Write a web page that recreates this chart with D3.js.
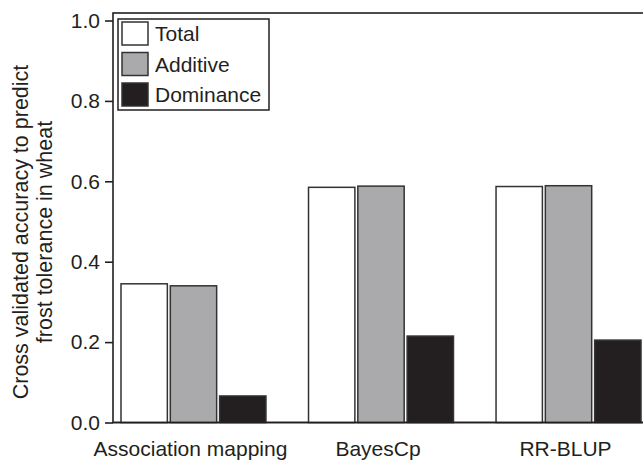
<!DOCTYPE html>
<html>
<head>
<meta charset="utf-8">
<script src="https://cdn.jsdelivr.net/npm/d3@7"></script>
<style>
  body { margin: 0; background: #fff; }
  text { font-family: "Liberation Sans", Arial, sans-serif; fill: #231f20; }
</style>
</head>
<body>
<div id="chart"></div>
<script>
// data
var methods = ["Association mapping", "BayesCp", "RR-BLUP"]
var seriesNames = ["Total", "Additive", "Dominance"]
var totalVals = [0.345, 0.585, 0.587]
var additiveVals = [0.340, 0.588, 0.589]
var dominanceVals = [0.066, 0.215, 0.205]
var yTicks = [0, 0.2, 0.4, 0.6, 0.8, 1.0]
var fills = ["#ffffff", "#aaaaad", "#231f20"]

var svgWdth = 643
var svgHt = 463

var svg = d3.select("#chart")
    .append("svg")
    .attr("width", svgWdth)
    .attr("height", svgHt)

var axisX = 113
var y = d3.scaleLinear().domain([0, 1]).range([422.5, 20.5])

var x0 = d3.scaleBand()
    .domain(methods)
    .range([121, 641])
    .paddingInner(0.227)
    .paddingOuter(0)

var x1 = d3.scaleBand()
    .domain(seriesNames)
    .range([0, x0.bandwidth()])
    .paddingInner(0.06)

var rows = methods.map(function(m, i) {
    return { method: m, vals: [totalVals[i], additiveVals[i], dominanceVals[i]] }
})

// frame (top + left, right side falls off the picture)
svg.append("rect")
    .attr("x", axisX)
    .attr("y", 13)
    .attr("width", 700)
    .attr("height", y(0) - 13)
    .attr("fill", "none")
    .attr("stroke", "#231f20")
    .attr("stroke-width", 1.6)

// bars
var groups = svg.selectAll(".grp")
    .data(rows)
    .enter().append("g")
    .attr("class", "grp")
    .attr("transform", function(d) { return "translate(" + x0(d.method) + ",0)" })

groups.selectAll("rect")
    .data(function(d) { return d.vals.map(function(v, j) { return { s: seriesNames[j], v: v, j: j } }) })
    .enter().append("rect")
    .attr("x", function(d) { return x1(d.s) })
    .attr("y", function(d) { return y(d.v) })
    .attr("width", x1.bandwidth())
    .attr("height", function(d) { return y(0) - y(d.v) })
    .attr("fill", function(d) { return fills[d.j] })
    .attr("stroke", "#333")
    .attr("stroke-width", 1.5)

// y axis
var yAxis = d3.axisLeft(y)
    .tickValues(yTicks)
    .tickFormat(d3.format(".1f"))
    .tickSize(8)
    .tickPadding(5)

var yg = svg.append("g")
    .attr("transform", "translate(" + axisX + ",0)")
    .call(yAxis)
yg.select(".domain").remove()
yg.selectAll("line").attr("stroke", "#231f20").attr("stroke-width", 1.6)
yg.selectAll("text")
    .style("font-size", "21px")
    .style("font-family", "Liberation Sans, Arial, sans-serif")
    .attr("fill", "#231f20")

// baseline
svg.append("line")
    .attr("x1", axisX).attr("x2", svgWdth)
    .attr("y1", y(0)).attr("y2", y(0))
    .attr("stroke", "#231f20")
    .attr("stroke-width", 1.6)

// category labels
svg.selectAll(".cat")
    .data(methods)
    .enter().append("text")
    .attr("class", "cat")
    .attr("x", function(d) { return x0(d) + x0.bandwidth() / 2 - 3 })
    .attr("y", 456)
    .attr("text-anchor", "middle")
    .style("font-size", "21px")
    .text(function(d) { return d })

// y label, two lines
var yLab = svg.append("text")
    .attr("transform", "translate(0,232) rotate(-90)")
    .attr("text-anchor", "middle")
    .style("font-size", "21.5px")
yLab.append("tspan").attr("x", 0).attr("y", 28).text("Cross validated accuracy to predict")
yLab.append("tspan").attr("x", 0).attr("y", 52).text("frost tolerance in wheat")

// legend
var legend = svg.append("g")
legend.append("rect")
    .attr("x", 118).attr("y", 19)
    .attr("width", 151).attr("height", 91)
    .attr("fill", "#fff")
    .attr("stroke", "#231f20")
    .attr("stroke-width", 1.5)

var legRows = legend.selectAll(".lr")
    .data(seriesNames)
    .enter().append("g")
    .attr("transform", function(d, i) { return "translate(122," + (22 + i * 30.5) + ")" })
legRows.append("rect")
    .attr("width", 26).attr("height", 23)
    .attr("fill", function(d, i) { return fills[i] })
    .attr("stroke", "#333")
    .attr("stroke-width", 1.5)
legRows.append("text")
    .attr("x", 33).attr("y", 19)
    .style("font-size", "21px")
    .text(function(d) { return d })
</script>
</body>
</html>
